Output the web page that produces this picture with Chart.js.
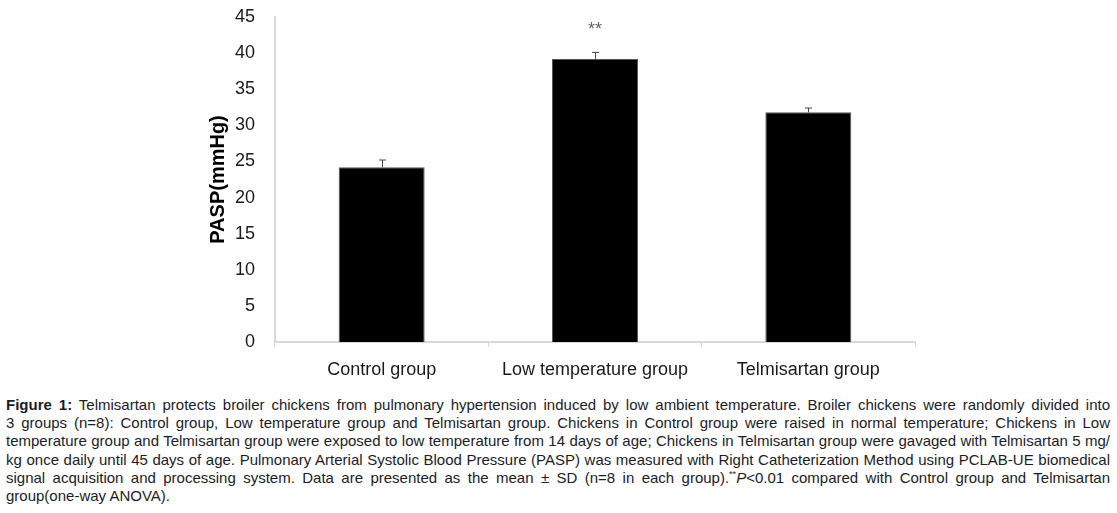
<!DOCTYPE html>
<html lang="en">
<head>
    <meta charset="UTF-8">
    <title>PASP chart</title>
    <script src="https://cdn.jsdelivr.net/npm/chart.js"></script>
    <style>
        body {
            margin: 0;
            background: #fff;
            font-family: Arial, "Liberation Sans", sans-serif;
            width: 1117px;
            height: 513px;
            overflow: hidden;
            position: relative;
        }
        #wrap {
            position: absolute;
            left: 0;
            top: 0;
            width: 1117px;
            height: 390px;
        }
        .caption {
            position: absolute;
            left: 6px;
            top: 396px;
            width: 1104px;
            font-size: 15px;
            line-height: 18.2px;
            color: #1c1c28;
        }
        .caption div {
            text-align: justify;
            text-align-last: justify;
            white-space: nowrap;
        }
        .caption div.last {
            text-align-last: left;
        }
        .caption sup {
            font-size: 9px;
            line-height: 0;
        }
    </style>
</head>
<body>
    <div id="wrap"><canvas id="chart"></canvas></div>
    <div class="caption">
        <div><b>Figure 1:</b> Telmisartan protects broiler chickens from pulmonary hypertension induced by low ambient temperature. Broiler chickens were randomly divided into</div>
        <div>3 groups (n=8): Control group, Low temperature group and Telmisartan group. Chickens in Control group were raised in normal temperature; Chickens in Low</div>
        <div>temperature group and Telmisartan group were exposed to low temperature from 14 days of age; Chickens in Telmisartan group were gavaged with Telmisartan 5 mg/</div>
        <div>kg once daily until 45 days of age. Pulmonary Arterial Systolic Blood Pressure (PASP) was measured with Right Catheterization Method using PCLAB-UE biomedical</div>
        <div>signal acquisition and processing system. Data are presented as the mean ± SD (n=8 in each group).<sup>**</sup><i>P</i>&lt;0.01 compared with Control group and Telmisartan</div>
        <div class="last">group(one-way ANOVA).</div>
    </div>
    <script>
        const groups = ["Control group", "Low temperature group", "Telmisartan group"];
        const pasp = [24.2, 39.2, 31.8];
        const sd = [1.0, 0.9, 0.6];
        const marks = ["", "**", ""];
        const yTicks = [0, 5, 10, 15, 20, 25, 30, 35, 40, 45];

        // error bars (upper half only) and significance stars
        const errorBars = {
            id: "errorBars",
            afterDatasetsDraw(chart) {
                let ctx = chart.ctx;
                let meta = chart.getDatasetMeta(0);
                let y = chart.scales.y;
                ctx.save();
                meta.data.forEach((bar, i) => {
                    let x = Math.round(bar.x) + 0.5;
                    let top = y.getPixelForValue(pasp[i] + sd[i]);
                    ctx.strokeStyle = "#444";
                    ctx.lineWidth = 1;
                    ctx.beginPath();
                    ctx.moveTo(x, bar.y);
                    ctx.lineTo(x, top);
                    ctx.moveTo(x - 3.5, top);
                    ctx.lineTo(x + 3.5, top);
                    ctx.stroke();
                    if (marks[i]) {
                        ctx.fillStyle = "#666";
                        ctx.font = "18px Arial";
                        ctx.textAlign = "center";
                        ctx.textBaseline = "middle";
                        ctx.fillText(marks[i], bar.x, top - 22);
                    }
                });
                ctx.restore();
            }
        };

        new Chart(document.getElementById("chart"), {
            type: "bar",
            data: {
                labels: groups,
                datasets: [{
                    data: pasp,
                    backgroundColor: "#000",
                    borderColor: "#555",
                    borderWidth: 1,
                    categoryPercentage: 1,
                    barPercentage: 0.403
                }]
            },
            options: {
                responsive: true,
                maintainAspectRatio: false,
                animation: false,
                layout: { padding: { left: 202, right: 202, top: 17, bottom: 0 } },
                plugins: {
                    legend: { display: false },
                    tooltip: { enabled: false }
                },
                scales: {
                    x: {
                        grid: { drawOnChartArea: false, color: "#d8d8d8", tickLength: 5, tickColor: "#d8d8d8" },
                        border: { color: "#d8d8d8", width: 2 },
                        ticks: { color: "#1a1a1a", font: { family: "Arial", size: 18 }, padding: 12 },
                        afterFit(scale) {
                            scale.height = 48;
                            scale.paddingLeft = 0;
                            scale.paddingRight = 0;
                        }
                    },
                    y: {
                        min: 0,
                        max: 45,
                        afterBuildTicks(scale) { scale.ticks = yTicks.map(v => ({ value: v })); },
                        grid: { display: false },
                        border: { color: "#d8d8d8", width: 2 },
                        ticks: { color: "#1a1a1a", font: { family: "Arial", size: 18 }, padding: 12 },
                        title: {
                            display: true,
                            text: "PASP(mmHg)",
                            color: "#000",
                            font: { family: "Arial", size: 20, weight: "bold" },
                            padding: { top: 4, bottom: 4 }
                        },
                        afterFit(scale) {
                            scale.width = 73;
                            scale.paddingTop = 0;
                            scale.paddingBottom = 0;
                        }
                    }
                }
            },
            plugins: [errorBars]
        });
    </script>
</body>
</html>
